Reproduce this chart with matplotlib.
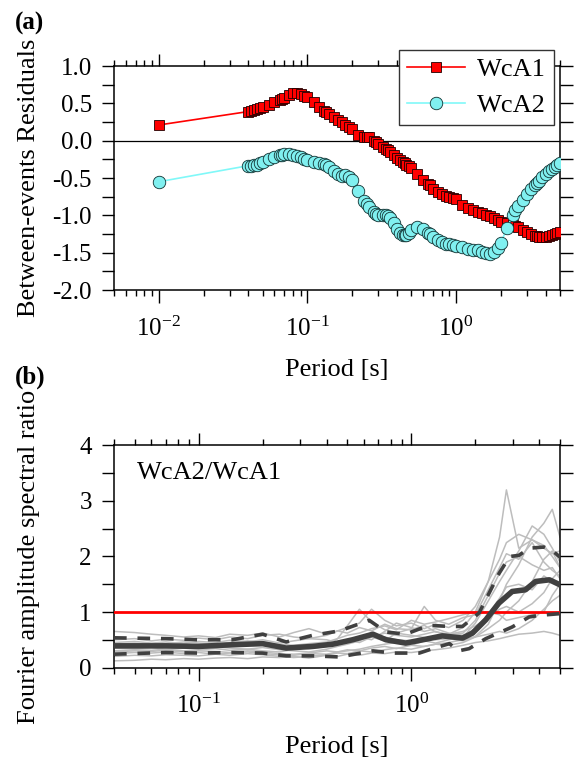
import numpy as np
import matplotlib
matplotlib.use("Agg")
import matplotlib.pyplot as plt
from matplotlib.ticker import LogLocator, MultipleLocator, NullFormatter

plt.rcParams['font.family'] = ['Liberation Serif', 'DejaVu Serif']
plt.rcParams['mathtext.fontset'] = 'custom'
plt.rcParams['mathtext.rm'] = 'Liberation Serif'
plt.rcParams['axes.unicode_minus'] = False

# ---- (a) between-event residuals per period ----
periods = [0.01, 0.04, 0.042, 0.044, 0.046, 0.048, 0.05, 0.055, 0.06, 0.065, 0.067,
           0.07, 0.075, 0.08, 0.085, 0.09, 0.095, 0.1, 0.11, 0.12, 0.13, 0.133,
           0.14, 0.15, 0.16, 0.17, 0.18, 0.19, 0.2, 0.22, 0.24, 0.25, 0.26, 0.28,
           0.29, 0.3, 0.32, 0.34, 0.35, 0.36, 0.38, 0.4, 0.42, 0.44, 0.45, 0.46,
           0.48, 0.5, 0.55, 0.6, 0.65, 0.667, 0.7, 0.75, 0.8, 0.85, 0.9, 0.95,
           1.0, 1.1, 1.2, 1.3, 1.4, 1.5, 1.6, 1.7, 1.8, 1.9, 2.0, 2.2, 2.4, 2.5,
           2.6, 2.8, 3.0, 3.2, 3.4, 3.5, 3.6, 3.8, 4.0, 4.2, 4.4, 4.6, 4.8, 5.0]

wca1 = [0.21, 0.39, 0.40, 0.41, 0.42, 0.435, 0.445, 0.48, 0.515, 0.545, 0.56,
        0.575, 0.61, 0.645, 0.64, 0.625, 0.605, 0.58, 0.52, 0.45, 0.40, 0.385,
        0.355, 0.315, 0.28, 0.245, 0.215, 0.185, 0.15, 0.08, 0.055, 0.05, 0.045, 0.0,
        -0.02, -0.04, -0.08, -0.115, -0.13, -0.15, -0.19, -0.235, -0.26, -0.29, -0.305, -0.32,
        -0.34, -0.37, -0.44, -0.52, -0.58, -0.60, -0.65, -0.69, -0.72, -0.74, -0.755, -0.77,
        -0.785, -0.86, -0.905, -0.93, -0.955, -0.975, -0.995, -1.015, -1.04, -1.06, -1.085, -1.105, -1.13, -1.145,
        -1.15, -1.19, -1.225, -1.25, -1.27, -1.28, -1.285, -1.29, -1.29, -1.275, -1.265, -1.25, -1.24, -1.225]

wca2 = [-0.55, -0.335, -0.335, -0.33, -0.32, -0.30, -0.285, -0.245, -0.215, -0.195, -0.19,
        -0.185, -0.185, -0.19, -0.20, -0.22, -0.24, -0.26, -0.29, -0.305, -0.31, -0.32,
        -0.35, -0.40, -0.45, -0.47, -0.46, -0.48, -0.53, -0.67, -0.81, -0.85, -0.89, -0.95,
        -0.98, -1.0, -1.0, -0.99, -1.01, -1.04, -1.10, -1.18, -1.23, -1.26, -1.265, -1.26,
        -1.23, -1.19, -1.15, -1.18, -1.23, -1.25, -1.29, -1.33, -1.36, -1.38, -1.39, -1.40,
        -1.41, -1.43, -1.45, -1.46, -1.47, -1.49, -1.51, -1.52, -1.49, -1.44, -1.37, -1.17, -1.0, -0.93,
        -0.88, -0.80, -0.72, -0.65, -0.60, -0.57, -0.54, -0.49, -0.45, -0.41, -0.38, -0.35, -0.32, -0.295]

# ---- (b) spectral ratios WcA2/WcA1 ----
ratio_T = [0.04, 0.05, 0.06, 0.07, 0.085, 0.1, 0.12, 0.14, 0.17, 0.2, 0.24, 0.28,
           0.33, 0.4, 0.45, 0.5, 0.57, 0.65, 0.75, 0.85, 1.0, 1.15, 1.3, 1.5, 1.75,
           2.0, 2.3, 2.6, 2.8, 3.2, 3.7, 4.2, 4.6, 5.0]

rec01 = [0.45, 0.47, 0.44, 0.46, 0.43, 0.47, 0.45, 0.49, 0.46, 0.50, 0.44, 0.48, 0.52, 0.58, 0.66, 0.62, 0.72,
         0.66, 0.78, 0.70, 0.68, 0.76, 0.64, 0.60, 0.72, 1.00, 1.55, 2.35, 3.20, 2.15, 2.30, 2.20, 2.00, 1.80]
rec02 = [0.30, 0.32, 0.31, 0.33, 0.30, 0.32, 0.34, 0.31, 0.33, 0.30, 0.28, 0.33, 0.36, 0.40, 0.52, 0.75, 1.05,
         0.82, 0.68, 0.62, 0.58, 0.54, 0.50, 0.52, 0.48, 0.56, 0.78, 1.20, 1.50, 1.85, 2.35, 2.60, 2.85, 2.35]
rec03 = [0.65, 0.63, 0.60, 0.58, 0.55, 0.57, 0.54, 0.60, 0.58, 0.62, 0.55, 0.63, 0.70, 0.60, 0.66, 0.72, 0.80,
         1.05, 0.85, 0.75, 0.80, 0.70, 0.78, 0.72, 0.85, 1.10, 1.55, 1.95, 2.25, 2.40, 2.30, 2.15, 2.05, 2.10]
rec04 = [0.12, 0.13, 0.15, 0.14, 0.16, 0.15, 0.17, 0.18, 0.16, 0.19, 0.18, 0.20, 0.17, 0.22, 0.20, 0.24, 0.22,
         0.26, 0.25, 0.28, 0.27, 0.30, 0.32, 0.35, 0.40, 0.45, 0.48, 0.52, 0.55, 0.60, 0.62, 0.65, 0.62, 0.58]
rec05 = [0.38, 0.36, 0.40, 0.37, 0.39, 0.36, 0.40, 0.38, 0.42, 0.40, 0.37, 0.35, 0.38, 0.42, 0.40, 0.45, 0.50,
         0.55, 0.48, 0.62, 0.70, 1.10, 0.85, 0.78, 0.90, 0.95, 1.40, 1.80, 2.05, 1.95, 2.25, 1.90, 1.75, 1.65]
rec06 = [0.25, 0.27, 0.26, 0.28, 0.25, 0.27, 0.24, 0.26, 0.28, 0.25, 0.23, 0.22, 0.25, 0.24, 0.28, 0.30, 0.33,
         0.38, 0.42, 0.45, 0.40, 0.48, 0.44, 0.50, 0.55, 0.80, 1.20, 1.55, 1.75, 2.10, 2.55, 2.40, 2.15, 1.90]
rec07 = [0.50, 0.52, 0.48, 0.51, 0.49, 0.53, 0.50, 0.55, 0.52, 0.58, 0.60, 0.55, 0.52, 0.50, 0.45, 0.48, 0.55,
         0.50, 0.65, 0.80, 0.72, 0.65, 0.70, 0.62, 0.58, 0.70, 0.95, 1.25, 1.45, 1.50, 1.40, 1.65, 1.55, 1.45]
rec08 = [0.35, 0.34, 0.36, 0.33, 0.35, 0.34, 0.37, 0.35, 0.33, 0.36, 0.32, 0.30, 0.28, 0.33, 0.38, 0.42, 0.48,
         0.60, 0.55, 0.50, 0.48, 0.52, 0.55, 0.60, 0.65, 0.75, 0.90, 1.05, 1.10, 1.00, 1.15, 1.35, 1.60, 1.75]
rec09 = [0.42, 0.44, 0.41, 0.43, 0.46, 0.44, 0.42, 0.45, 0.48, 0.46, 0.42, 0.40, 0.43, 0.46, 0.52, 0.58, 0.62,
         0.70, 0.75, 0.68, 0.85, 0.78, 0.82, 0.88, 0.95, 1.00, 1.00, 0.95, 0.85, 0.90, 0.95, 1.00, 1.30, 1.50]
rec10 = [0.28, 0.30, 0.29, 0.31, 0.28, 0.30, 0.29, 0.27, 0.30, 0.28, 0.25, 0.24, 0.26, 0.30, 0.28, 0.32, 0.30,
         0.35, 0.38, 0.34, 0.40, 0.38, 0.42, 0.40, 0.45, 0.55, 0.70, 0.85, 1.00, 1.20, 1.55, 1.95, 2.10, 1.80]
rec11 = [0.20, 0.22, 0.21, 0.23, 0.22, 0.21, 0.24, 0.22, 0.25, 0.23, 0.20, 0.18, 0.20, 0.23, 0.26, 0.25, 0.30,
         0.28, 0.32, 0.35, 0.33, 0.38, 0.42, 0.45, 0.50, 0.55, 0.60, 0.65, 0.62, 0.70, 0.85, 1.05, 1.20, 1.30]
rec12 = [0.40, 0.38, 0.41, 0.39, 0.42, 0.40, 0.38, 0.41, 0.44, 0.42, 0.38, 0.36, 0.34, 0.38, 0.42, 0.50, 0.45,
         0.55, 0.62, 0.58, 0.55, 0.60, 0.65, 0.58, 0.62, 0.85, 1.30, 1.70, 1.90, 2.00, 1.85, 1.75, 1.80, 1.60]
records = [rec01, rec02, rec03, rec04, rec05, rec06, rec07, rec08, rec09, rec10, rec11, rec12]

mean_T = [0.04, 0.07, 0.1, 0.144, 0.2, 0.258, 0.344, 0.427, 0.53, 0.66, 0.76, 0.94,
          1.17, 1.4, 1.74, 1.94, 2.24, 2.58, 2.98, 3.44, 3.84, 4.46, 5.0]
mean_ratio = [0.39, 0.39, 0.38, 0.41, 0.43, 0.35, 0.38, 0.42, 0.50, 0.60, 0.50, 0.44,
              0.51, 0.57, 0.53, 0.62, 0.86, 1.16, 1.37, 1.40, 1.55, 1.58, 1.49]

upper_T = [0.04, 0.07, 0.1, 0.144, 0.2, 0.258, 0.344, 0.46, 0.634, 0.76, 0.94, 1.21,
           1.51, 1.74, 2.08, 2.59, 2.9, 3.2, 3.6, 4.2, 4.62, 5.0]
upper_ratio = [0.535, 0.52, 0.50, 0.50, 0.60, 0.46, 0.58, 0.66, 0.85, 0.64, 0.60, 0.76,
               0.74, 0.74, 0.98, 1.70, 2.0, 2.02, 2.15, 2.17, 2.10, 1.99]

lower_T = [0.04, 0.07, 0.1, 0.144, 0.2, 0.258, 0.344, 0.46, 0.66, 0.82, 1.09, 1.26,
           1.51, 1.67, 1.87, 2.24, 2.98, 3.58, 4.0, 5.0]
lower_ratio = [0.24, 0.27, 0.26, 0.27, 0.26, 0.21, 0.21, 0.19, 0.30, 0.26, 0.26, 0.34,
               0.43, 0.30, 0.34, 0.52, 0.73, 0.91, 0.94, 0.97]

FS_TICK = 18
FS = 19

fig = plt.figure(figsize=(5.77, 7.64), dpi=100)
ax1 = fig.add_axes([0.1976, 0.6204, 0.7729, 0.2932])
ax2 = fig.add_axes([0.1976, 0.1263, 0.7729, 0.2906])


def style_axis(ax):
    ax.set_xscale('log')
    ax.tick_params(which='both', direction='out', top=True, right=True,
                   width=1.0, labelsize=FS_TICK)
    ax.tick_params(axis='x', which='major', length=9, pad=10)
    ax.tick_params(axis='x', which='minor', length=4.5)
    ax.tick_params(axis='y', which='both', length=9, pad=7)
    ax.xaxis.set_major_locator(LogLocator(base=10, numticks=10))
    ax.xaxis.set_minor_locator(LogLocator(base=10, subs=np.arange(2, 10), numticks=20))
    ax.xaxis.set_minor_formatter(NullFormatter())
    for s in ax.spines.values():
        s.set_linewidth(1.1)


# panel (a)
style_axis(ax1)
ax1.axhline(0, color='black', lw=0.9, zorder=1)
ax1.plot(periods, wca1, '-s', color='red', lw=1.2, ms=7.5, mfc='red',
         mec='#200000', mew=0.6, label='WcA1', zorder=3)
ax1.plot(periods, wca2, '-o', color='#80F8F8', lw=1.2, ms=9, mfc='#80F0F0',
         mec='#103030', mew=0.6, label='WcA2', zorder=4)
ax1.set_xlim(0.005, 5)
ax1.set_ylim(-2.0, 1.0)
ax1.yaxis.set_major_locator(MultipleLocator(0.5))
ax1.yaxis.set_minor_locator(MultipleLocator(0.25))
ax1.yaxis.set_major_formatter(plt.FuncFormatter(lambda v, p: '%.1f' % v))
ax1.set_xlabel('Period [s]', fontsize=FS, labelpad=13)
ax1.set_ylabel('Between-events Residuals', fontsize=FS)
ax1.yaxis.set_label_coords(-0.165, 0.5)
leg = ax1.legend(loc='upper right', bbox_to_anchor=(0.9865, 1.071), borderaxespad=0,
                 fontsize=FS, frameon=True, fancybox=False, framealpha=1,
                 edgecolor='#333333', handlelength=2.2, handletextpad=0.45,
                 labelspacing=0.45, borderpad=0.3)
leg.get_frame().set_linewidth(1.0)
leg.set_zorder(10)
fig.text(0.026, 0.985, '(a)', fontsize=FS_TICK, fontweight='bold', va='top', ha='left')

# panel (b)
style_axis(ax2)
for rec in records:
    ax2.plot(ratio_T, rec, color='#BDBDBD', lw=1.1, zorder=2)
ax2.axhline(1.0, color='red', lw=2.0, zorder=3)
ax2.plot(upper_T, upper_ratio, color='#404040', lw=2.6, ls=(0, (3.5, 3)), zorder=4)
ax2.plot(lower_T, lower_ratio, color='#404040', lw=2.6, ls=(0, (3.5, 3)), zorder=4)
ax2.plot(mean_T, mean_ratio, color='#404040', lw=4.0, zorder=5, solid_joinstyle='round')
ax2.set_xlim(0.04, 5)
ax2.set_ylim(0, 4)
ax2.yaxis.set_major_locator(MultipleLocator(1))
ax2.yaxis.set_minor_locator(MultipleLocator(0.5))
ax2.set_xlabel('Period [s]', fontsize=FS, labelpad=13)
ax2.set_ylabel('Fourier amplitude spectral ratio', fontsize=FS)
ax2.yaxis.set_label_coords(-0.165, 0.5)
ax2.text(0.052, 0.925, 'WcA2/WcA1', transform=ax2.transAxes, fontsize=FS,
         va='top', ha='left')
fig.text(0.026, 0.522, '(b)', fontsize=FS_TICK, fontweight='bold', va='top', ha='left')

fig.savefig('out.png', dpi=100)
